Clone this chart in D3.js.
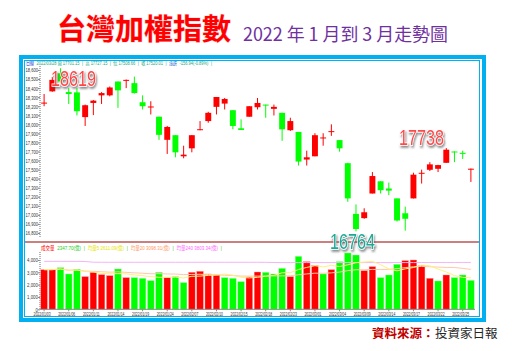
<!DOCTYPE html>
<html><head><meta charset="utf-8">
<script src="https://cdn.jsdelivr.net/npm/d3@7"></script>
<style>body{margin:0;background:#fff}svg{display:block}</style>
</head><body>
<svg id="c" width="513" height="351"></svg>
<script>
const dates = ["2022/01/03","2022/01/04","2022/01/05","2022/01/06","2022/01/07","2022/01/10","2022/01/11","2022/01/12","2022/01/13","2022/01/14","2022/01/17","2022/01/18","2022/01/19","2022/01/20","2022/01/21","2022/01/24","2022/01/25","2022/01/26","2022/02/07","2022/02/08","2022/02/09","2022/02/10","2022/02/11","2022/02/14","2022/02/15","2022/02/16","2022/02/17","2022/02/18","2022/02/21","2022/02/22","2022/02/23","2022/02/24","2022/02/25","2022/03/01","2022/03/02","2022/03/03","2022/03/04","2022/03/07","2022/03/08","2022/03/09","2022/03/10","2022/03/11","2022/03/14","2022/03/15","2022/03/16","2022/03/17","2022/03/18","2022/03/21","2022/03/22","2022/03/23","2022/03/24","2022/03/25","2022/03/28"];
const openP  = [18232,18364,18564,18356,18353,18080,18236,18320,18320,18473,18480,18455,18244,18190,18084,17829,17880,17647,17735,17942,18036,18193,18229,18156,17956,18084,18189,18218,18171,18127,17935,17916,17611,17647,17852,17918,17826,17571,17011,16964,17236,17371,17291,17182,17018,17182,17455,17498,17509,17575,17700,17685,17505];
const highP  = [18335,18520,18619,18400,18400,18218,18269,18356,18418,18473,18495,18527,18320,18255,18084,17982,17880,17764,17880,18036,18138,18302,18291,18156,18055,18200,18291,18218,18218,18127,18073,17916,17709,17902,17902,18000,17826,17575,17116,17073,17473,17371,17356,17182,17091,17466,17500,17582,17553,17738,17702,17709,17512];
const lowP   = [18200,18360,18455,18225,18098,17982,18102,18225,18309,18182,18400,18340,18164,18109,17829,17673,17636,17625,17691,17935,18018,18109,18164,17945,17938,18084,18164,18073,18098,17818,17927,17545,17545,17647,17764,17873,17698,17145,16818,16957,17236,17236,17218,16927,16826,17182,17346,17484,17473,17575,17582,17618,17364];
const closeP = [18240,18491,18473,18335,18145,18211,18262,18345,18407,18375,18491,18345,18200,18197,17884,17971,17691,17665,17880,17946,18127,18302,18280,17982,17938,18200,18236,18211,18193,17945,18036,17589,17636,17880,17855,17925,17735,17182,16844,17029,17429,17273,17268,16938,16957,17444,17465,17558,17550,17720,17695,17680,17510];
const volume = [3216,3216,3378,2865,3243,2649,3000,2811,2730,3270,2568,2568,2514,2324,3000,2568,2649,2162,3000,3081,2865,2784,2568,2514,2243,2622,3027,3000,2865,3324,2649,4297,3865,3541,2865,3216,3865,4568,4405,3135,3459,2568,2784,3649,3946,4000,3541,2514,2297,2784,2568,2784,2348];
const ma240  = [3890,3890,3890,3890,3890,3880,3820,3815,3815,3815,3815,3815,3815,3815,3815,3815,3815,3815,3815,3815,3815,3815,3815,3815,3815,3815,3815,3810,3795,3790,3790,3790,3790,3790,3790,3790,3790,3790,3790,3790,3790,3790,3790,3790,3790,3790,3795,3795,3800,3800,3800,3803,3803];
const priceTicks = [16800,16900,17000,17100,17200,17300,17400,17500,17600,17700,17800,17900,18000,18100,18200,18300,18400,18500,18600];
const volTicks = [0,1000,2000,3000,4000];
const tickDates = ["2022/01/03","2022/01/06","2022/01/11","2022/01/14","2022/01/19","2022/01/24","2022/02/07","2022/02/10","2022/02/15","2022/02/18","2022/02/23","2022/03/01","2022/03/04","2022/03/09","2022/03/14","2022/03/17","2022/03/22","2022/03/25"];
const annotations = [
  {text:"18619", idx:2},
  {text:"17738", idx:49},
  {text:"16764", idx:38}
];
const infoPieces = [
  ["日線","#0033CC"],["2022/03/28 開 17701.15","#19A57E"],["|","#19A57E"],["高 17727.15","#19A57E"],["|","#19A57E"],
  ["低 17508.66","#19A57E"],["|","#19A57E"],["收 17520.01","#19A57E"],["|","#19A57E"],["漲跌","#1E6FD0"],["-156.94(-0.89%)","#19A57E"],["|","#19A57E"]
];
const volInfoPieces = [
  ["成交量","#FF0000"],["2347.70(億)","#22CC22"],["|","#22CC22"],["均量5 2611.09(億)","#E6E600"],["|","#22CC22"],
  ["均量20 3098.31(億)","#FF9966"],["|","#22CC22"],["均量240 3803.34(億)","#FF66FF"],["|","#22CC22"]
];

const UP="#FF0000", DN="#00FF00";
const svg = d3.select("#c");
const defs = svg.append("defs");
const f = defs.append("filter").attr("id","shadow").attr("x","-20%").attr("y","-30%").attr("width","150%").attr("height","170%");
f.append("feGaussianBlur").attr("in","SourceAlpha").attr("stdDeviation",1.1).attr("result","b");
f.append("feOffset").attr("in","b").attr("dx",1.6).attr("dy",2).attr("result","o");
f.append("feFlood").attr("flood-color","#555").attr("flood-opacity",0.7).attr("result","c");
f.append("feComposite").attr("in","c").attr("in2","o").attr("operator","in").attr("result","s");
const fm = f.append("feMerge");
fm.append("feMergeNode").attr("in","s");
fm.append("feMergeNode").attr("in","SourceGraphic");

function fitText(sel, x0, y, width, anchor){
  const w = sel.node().getComputedTextLength();
  const s = width / w;
  sel.attr("x",0).attr("y",0).attr("transform",`translate(${x0},${y}) scale(${s},1)`);
  if(anchor) sel.attr("text-anchor",anchor);
  return sel;
}

// title
svg.append("text").attr("x",57).attr("y",40)
  .attr("font-family","'Noto Sans CJK TC'").attr("font-size",29).attr("font-weight",700)
  .attr("fill","#FF0000").attr("stroke","#FFD6D6").attr("stroke-width",1).attr("paint-order","stroke")
  .text("台灣加權指數");
fitText(svg.append("text").attr("font-family","'Noto Sans CJK TC'").attr("font-size",18)
  .attr("fill","#7030A0").text("2022 年 1 月到 3 月走勢圖"), 243, 41, 205);

// source
svg.append("text").attr("x",372).attr("y",338)
  .attr("font-family","'Noto Sans CJK TC'").attr("font-size",12.5)
  .attr("fill","#C00000").attr("font-weight",700).text("資料來源：");
svg.append("text").attr("x",435).attr("y",338)
  .attr("font-family","'Noto Sans CJK TC'").attr("font-size",12.5)
  .attr("fill","#262626").text("投資家日報");

const x = d3.scaleBand().domain(dates).range([40,475]).paddingInner(0.2).paddingOuter(0.1);
const bw = x.bandwidth();
const cx = d => x(d) + bw/2;
const yP = d3.scaleLinear().domain([16800,18600]).range([233,70]);
const yV = d3.scaleLinear().domain([0,4000]).range([309.3,260]);

const g = svg.append("g");

// info rows
function row(x0, y, total, pieces){
  const gap = 3.2;
  const rg = g.append("g");
  const els = pieces.map(([t,c])=> rg.append("text").attr("y",0)
    .attr("font-family","'Liberation Sans','Noto Sans CJK TC'")
    .attr("font-size",5.3).attr("fill",c).text(t));
  const w = els.map(e=>e.node().getComputedTextLength());
  let cur = 0;
  els.forEach((e,i)=>{ e.attr("x",cur); cur += w[i] + gap; });
  const natural = cur - gap;
  rg.attr("transform",`translate(${x0},${y}) scale(${total/natural},1)`);
}
row(26, 64.6, 186, infoPieces);
row(41, 249.5, 181, volInfoPieces);

// separator
g.append("line").attr("x1",24).attr("x2",479).attr("y1",242).attr("y2",242)
  .attr("stroke","#9A0000").attr("stroke-width",1.2);

function styleAxis(sel, sx){
  sel.select(".domain").remove();
  sel.selectAll(".tick line").attr("stroke","#888");
  sel.selectAll(".tick text").attr("font-family","'Liberation Sans'").attr("font-size",6)
    .attr("fill","#333").attr("transform",`scale(${sx},1)`);
}
const ap = g.append("g").attr("transform","translate(40,0)")
  .call(d3.axisLeft(yP).tickValues(priceTicks).tickSize(2).tickPadding(1).tickFormat(d3.format(",")));
styleAxis(ap, 0.68);
g.append("line").attr("x1",40).attr("x2",40).attr("y1",66).attr("y2",238)
  .attr("stroke","#999").attr("stroke-width",1.4).attr("stroke-dasharray","1,1");
const av = g.append("g").attr("transform","translate(40,0)")
  .call(d3.axisLeft(yV).tickValues(volTicks).tickSize(2).tickPadding(1).tickFormat(d3.format(",")));
styleAxis(av, 0.72);
g.append("line").attr("x1",40).attr("x2",40).attr("y1",252).attr("y2",309.3)
  .attr("stroke","#999").attr("stroke-width",1.4).attr("stroke-dasharray","1,1");

// candles
dates.forEach((d,i)=>{
  const o=openP[i], c=closeP[i], col = c>=o?UP:DN;
  g.append("line").attr("x1",cx(d)).attr("x2",cx(d)).attr("y1",yP(highP[i])).attr("y2",yP(lowP[i]))
    .attr("stroke",col).attr("stroke-width",1);
  const top=yP(Math.max(o,c)), h=Math.max(1,Math.abs(yP(o)-yP(c)));
  g.append("rect").attr("x",x(d)+bw*0.05).attr("width",bw*0.9).attr("y",top).attr("height",h).attr("fill",col);
});

// volume bars
dates.forEach((d,i)=>{
  const up = i===0 ? closeP[i]>=openP[i] : closeP[i]>=closeP[i-1];
  g.append("rect").attr("x",x(d)).attr("width",bw).attr("y",yV(volume[i]))
    .attr("height",yV(0)-yV(volume[i])).attr("fill",up?UP:DN)
    .attr("stroke",up?"#FF9A9A":"#9AFF9A").attr("stroke-width",0.4);
});
const ma = n => volume.map((v,i)=>d3.mean(volume.slice(Math.max(0,i-n+1),i+1)));
const line = d3.line().x((v,i)=>cx(dates[i])).y(v=>yV(v)).curve(d3.curveLinear);
g.append("path").attr("d",line(ma240)).attr("fill","none").attr("stroke","#F5B4F5").attr("stroke-width",1);
g.append("path").attr("d",line(ma(20))).attr("fill","none").attr("stroke","#FFC9A6").attr("stroke-width",1);
g.append("path").attr("d",line(ma(5))).attr("fill","none").attr("stroke","#FFF07A").attr("stroke-width",1);

// x axis
const ax = g.append("g").attr("transform","translate(0,309.3)")
  .call(d3.axisBottom(x).tickValues(tickDates).tickSize(2).tickPadding(1));
ax.select(".domain").attr("stroke","#888").attr("d","M40,0H475");
ax.selectAll(".tick line").attr("stroke","#888");
ax.selectAll(".tick text").attr("font-family","'Liberation Sans'").attr("font-size",5.5).attr("fill","#333")
  .attr("x",0).attr("dy","0.71em").attr("transform","translate(-2,0) scale(0.62,1)");

// annotations
const annPos = {"18619":[51,85.6,"#FF4444"], "17738":[399,144.5,"#FF4A4A"], "16764":[330,248.5,"#1EA896"]};
annotations.forEach(a=>{
  const [ax0, ay, col] = annPos[a.text];
  const t = svg.append("text").attr("font-family","'Liberation Sans'").attr("font-size",22)
    .attr("fill",col).attr("stroke","#fff").attr("stroke-width",1.6).attr("paint-order","stroke")
    .attr("filter","url(#shadow)").text(a.text);
  fitText(t, ax0, ay, 45);
});

// frame
svg.append("rect").attr("x",21).attr("y",57).attr("width",463).attr("height",263)
  .attr("fill","none").attr("stroke","#00B0F0").attr("stroke-width",4);
svg.append("rect").attr("x",24.5).attr("y",60.5).attr("width",455).attr("height",256)
  .attr("fill","none").attr("stroke","#00B0F0").attr("stroke-width",1);
</script>
</body></html>
